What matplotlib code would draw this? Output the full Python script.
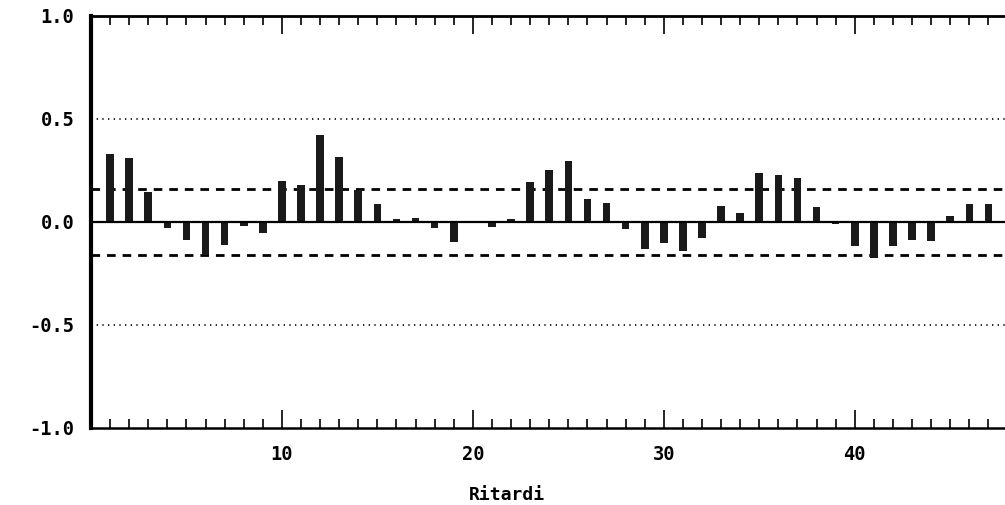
import numpy as np
import matplotlib
matplotlib.use("Agg")
import matplotlib.pyplot as plt

# autocorrelazioni, ritardi 1..47
ritardi = list(range(1, 48))
acf = [0.33, 0.31, 0.145, -0.027, -0.089, -0.158, -0.111, -0.019, -0.052, 0.20,
       0.18, 0.42, 0.317, 0.156, 0.085, 0.016, 0.018, -0.03, -0.095, 0.0,
       -0.023, 0.015, 0.195, 0.254, 0.295, 0.111, 0.09, -0.035, -0.13, -0.10,
       -0.14, -0.078, 0.075, 0.045, 0.238, 0.227, 0.214, 0.074, -0.011, -0.116,
       -0.177, -0.119, -0.089, -0.092, 0.029, 0.089, 0.089]

limite_conf = 0.16   # bande +-2/sqrt(n)
limite_rif = 0.5
yticks = [-1.0, -0.5, 0.0, 0.5, 1.0]
ytick_labels = ["-1.0", "-0.5", "0.0", "0.5", "1.0"]
xticks = [10, 20, 30, 40]

fig = plt.figure(figsize=(10.05, 5.05), dpi=100)
ax = fig.add_axes([0.0905, 0.1525, 0.950, 0.816])

ax.bar(ritardi, acf, width=0.4, color="#1a1a1a", zorder=3)
ax.axhline(0, color="black", lw=1.6, zorder=4)
for s in (1, -1):
    ax.axhline(s * limite_conf, color="black", lw=2.0, ls=(0, (3.1, 2.5)), zorder=2)
    ax.axhline(s * limite_rif, color="black", lw=1.2, ls=(0, (0.8, 2.6)), zorder=2)

ax.set_xlim(0, 50)
ax.set_ylim(-1, 1)

ax.set_xticks(xticks)
ax.set_xticklabels([str(t) for t in xticks])
ax.set_xticks(range(1, 50), minor=True)
ax.tick_params(axis="x", which="major", direction="in", length=13, width=1.2,
               top=True, bottom=True, pad=12)
ax.tick_params(axis="x", which="minor", direction="in", length=6.5, width=1.2,
               top=True, bottom=True)
ax.set_yticks(yticks)
ax.set_yticklabels(ytick_labels)
ax.tick_params(axis="y", length=0, pad=12)

for lab in ax.get_xticklabels() + ax.get_yticklabels():
    lab.set_family("DejaVu Sans Mono")
    lab.set_fontweight("bold")
    lab.set_fontsize(13.5)

ax.spines["left"].set_linewidth(3)
ax.spines["top"].set_linewidth(2)
ax.spines["bottom"].set_linewidth(1.8)
ax.spines["right"].set_visible(False)

fig.text(0.504, 0.02, "Ritardi", family="DejaVu Sans Mono", fontweight="bold",
         fontsize=13, ha="center", va="center")

fig.savefig("out.png", dpi=100, facecolor="white")
